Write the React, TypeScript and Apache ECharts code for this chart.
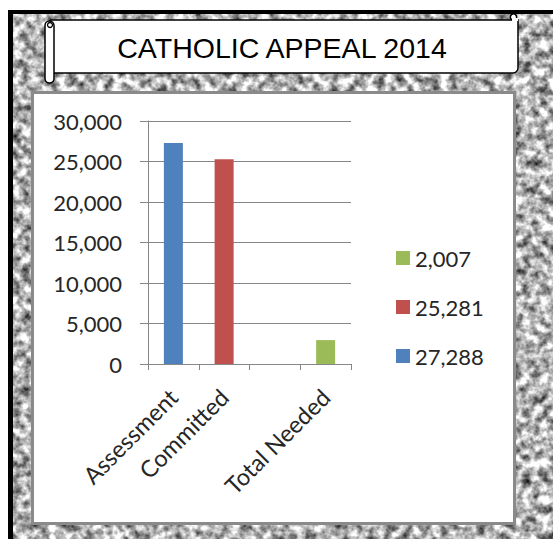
import React, { useEffect, useRef } from "react";
import * as echarts from "echarts";

const CATEGORIES = ["Assessment", "Committed", "", "Total Needed"];
const SERIES_NAMES = ["27,288", "25,281", "2,007"];
const ASSESSMENT = [27288, "-", "-", "-"];
const COMMITTED = ["-", 25281, "-", "-"];
const NEEDED = ["-", "-", "-", 2950];
const LEGEND_ORDER = ["2,007", "25,281", "27,288"];
const COLORS = ["#4F81BD", "#C0504D", "#9BBB59"];
const TITLE = "CATHOLIC APPEAL 2014";

const noise = `<svg xmlns='http://www.w3.org/2000/svg' width='545' height='529'><filter id='f' x='0' y='0' width='100%' height='100%' color-interpolation-filters='sRGB'><feTurbulence type='fractalNoise' baseFrequency='0.11' numOctaves='3' seed='7'/><feColorMatrix type='matrix' values='1.55 0 0 0 -0.07 1.55 0 0 0 -0.07 1.55 0 0 0 -0.07 0 0 0 0 1'/></filter><rect width='100%' height='100%' filter='url(#f)'/></svg>`;

export default function App() {
  const ref = useRef<HTMLDivElement>(null);
  useEffect(() => {
    if (!ref.current) return;
    const chart = echarts.init(ref.current, null, { renderer: "svg" });
    const labelFont = { fontFamily: "Lato", fontSize: 22, color: "#262626" };
    const data = [ASSESSMENT, COMMITTED, NEEDED];
    chart.setOption({
      animation: false,
      backgroundColor: "transparent",
      graphic: [
        {
          type: "rect",
          z: -100,
          shape: { x: 32.5, y: 92.5, width: 482, height: 431 },
          style: { fill: "#ffffff", stroke: "#8a8a8a", lineWidth: 3 },
        },
        {
          type: "rect",
          z: 10,
          shape: { x: 50, y: 20, width: 468, height: 53, r: [0, 0, 5, 0] },
          style: { fill: "#ffffff", stroke: "#000000", lineWidth: 1.5 },
        },
        {
          type: "rect",
          z: 11,
          shape: { x: 45, y: 21, width: 9, height: 62, r: 4.5 },
          style: { fill: "#ffffff", stroke: "#000000", lineWidth: 1.5 },
        },
        {
          type: "circle",
          z: 12,
          shape: { cx: 50, cy: 25, r: 2.5 },
          style: { fill: "#ffffff", stroke: "#000000", lineWidth: 1.3 },
        },
        {
          type: "circle",
          z: 12,
          shape: { cx: 513.5, cy: 17, r: 3.2 },
          style: { fill: "#ffffff", stroke: "#000000", lineWidth: 1.5 },
        },
        {
          type: "rect",
          z: 12,
          shape: { x: 512, y: 18, width: 6, height: 3 },
          style: { fill: "#ffffff" },
        },
        {
          type: "text",
          z: 13,
          x: 282,
          y: 47.5,
          style: {
            text: TITLE,
            fontFamily: "Liberation Sans",
            fontSize: 28.5,
            fill: "#000000",
            align: "center",
            verticalAlign: "middle",
          },
        },
      ],
      grid: { left: 148, top: 121, width: 203, height: 243 },
      legend: {
        orient: "vertical",
        left: 391,
        top: 242,
        itemWidth: 14,
        itemHeight: 14,
        itemGap: 27,
        icon: "rect",
        data: LEGEND_ORDER,
        textStyle: labelFont,
      },
      xAxis: {
        type: "category",
        data: CATEGORIES,
        axisLine: { lineStyle: { color: "#868686", width: 1 } },
        axisTick: { show: true, length: 6, interval: 0, lineStyle: { color: "#868686" } },
        axisLabel: { ...labelFont, fontSize: 23.5, rotate: 45, interval: 0, margin: 29 },
      },
      yAxis: {
        type: "value",
        min: 0,
        max: 30000,
        interval: 5000,
        axisLine: { show: true, lineStyle: { color: "#868686", width: 1 } },
        axisTick: { show: true, length: 8, lineStyle: { color: "#868686" } },
        splitLine: { lineStyle: { color: "#868686", width: 1 } },
        axisLabel: {
          ...labelFont,
          margin: 26,
          formatter: (v: number) => v.toLocaleString("en-US"),
        },
      },
      series: SERIES_NAMES.map((name, i) => ({
        name,
        type: "bar",
        stack: "total",
        barWidth: 19,
        data: data[i],
        itemStyle: { color: COLORS[i] },
      })),
    });
    return () => chart.dispose();
  }, []);

  return (
    <div
      style={{
        position: "fixed",
        left: 0,
        top: 0,
        width: 553,
        height: 539,
        background: "#ffffff",
        overflow: "hidden",
      }}
    >
      <div
        style={{
          position: "absolute",
          left: 8,
          top: 10,
          width: 545,
          height: 529,
          boxSizing: "border-box",
          borderLeft: "5px solid #000",
          borderTop: "4px solid #000",
          backgroundImage: `url("data:image/svg+xml,${encodeURIComponent(noise)}")`,
          backgroundColor: "#b5b5b5",
        }}
      />
      <div ref={ref} style={{ position: "absolute", left: 0, top: 0, width: 553, height: 539 }} />
    </div>
  );
}
